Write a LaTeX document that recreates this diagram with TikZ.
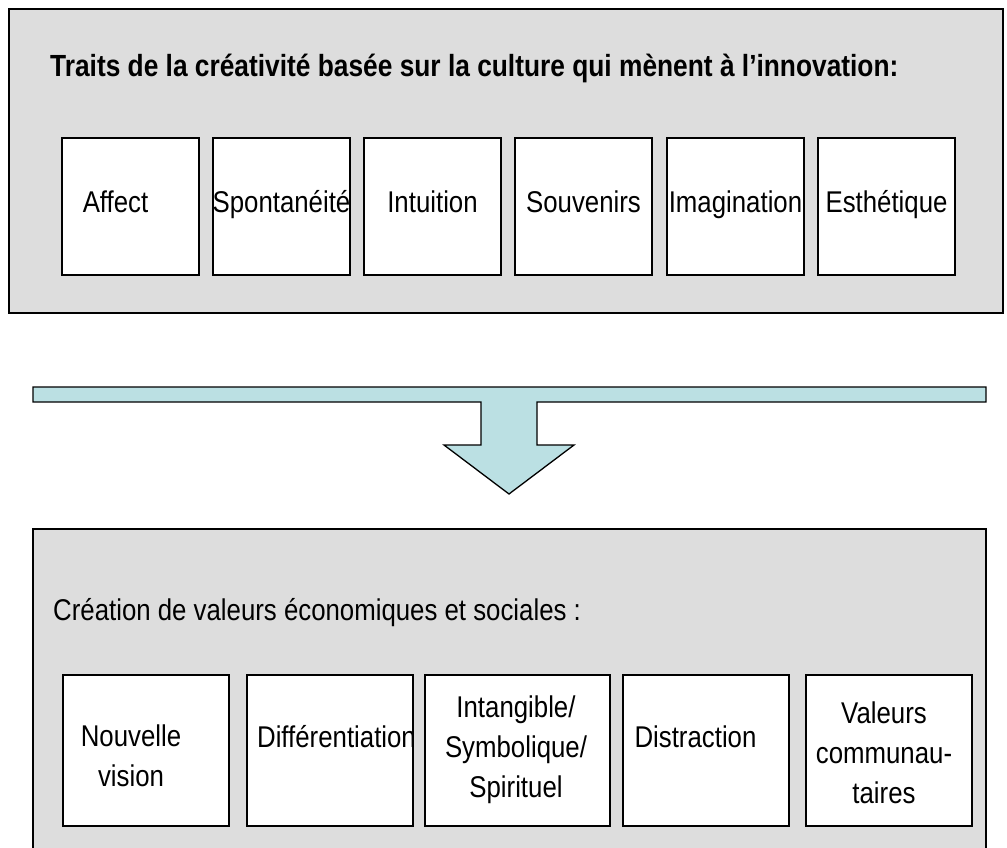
\documentclass[tikz,border=0pt]{standalone}
\usepackage{fontspec}
\setmainfont{Liberation Sans}[FakeStretch=0.86]
\definecolor{panelgrey}{RGB}{221,221,221}
\definecolor{arrowblue}{RGB}{187,224,227}

\begin{document}
\begin{tikzpicture}[x=1pt,y=-1pt]
  \tikzstyle{Panel}=[draw,line width=1.5pt,fill=panelgrey]
  \tikzstyle{TraitBox}=[draw,line width=1.3pt,fill=white,minimum width=137pt,minimum height=137pt,inner sep=0pt]
  \tikzstyle{ValueBox}=[draw,line width=1.3pt,fill=white,minimum width=166pt,minimum height=151pt,inner sep=0pt]
  \tikzstyle{Txt}=[inner sep=0pt,anchor=base,align=center,font=\fontsize{30}{40}\selectfont]
  \tikzstyle{ArrowShape}=[draw,line width=1.3pt,fill=arrowblue,line join=miter]
  \clip (0,0) rectangle (1007,848);
  % upper panel
  \draw[Panel] (9,9) rectangle (1003,313);
  \node[Txt,anchor=base west,font=\fontsize{30.6}{40}\selectfont\bfseries] (traits) at (50,77) {Traits de la créativité basée sur la culture qui mènent à l’innovation:};
  \node[TraitBox] (affect) at (130.5,206.5) {};
  \node[TraitBox] (spont) at (281.5,206.5) {};
  \node[TraitBox] (intuit) at (432.5,206.5) {};
  \node[TraitBox] (souv) at (583.5,206.5) {};
  \node[TraitBox] (imag) at (735.5,206.5) {};
  \node[TraitBox] (esth) at (886.5,206.5) {};
  \node[Txt] (taffect) at (115.5,212) {Affect};
  \node[Txt] (tspont) at (281.5,212) {Spontanéité};
  \node[Txt] (tintuit) at (432.5,212) {Intuition};
  \node[Txt] (tsouv) at (583.5,212) {Souvenirs};
  \node[Txt] (timag) at (735.5,212) {Imagination};
  \node[Txt] (testh) at (886.5,212) {Esthétique};
  % arrow
  \draw[ArrowShape] (33,387) -- (986,387) -- (986,402) -- (537,402) -- (537,445)
    -- (574,445) -- (509,494) -- (444,445) -- (481,445) -- (481,402) -- (33,402) -- cycle;
  % lower panel
  \draw[Panel] (33,529) rectangle (986,870);
  \node[Txt,anchor=base west] (creation) at (53,620) {Création de valeurs économiques et sociales :};
  \node[ValueBox] (vision) at (146,750.5) {};
  \node[ValueBox] (diff) at (330,750.5) {};
  \node[ValueBox,minimum width=185pt] (intang) at (517.5,750.5) {};
  \node[ValueBox] (distr) at (706,750.5) {};
  \node[ValueBox] (commu) at (889,750.5) {};
  % last line sits on the given baseline
  \node[Txt] (tvision) at (131,786) {Nouvelle\\vision};
  \node[Txt] (tdiff) at (336.5,747) {Différentiation};
  \node[Txt] (tintang) at (516,797) {Intangible/\\Symbolique/\\Spirituel};
  \node[Txt] (tdistr) at (695.5,747) {Distraction};
  \node[Txt] (tcommu) at (884,803) {Valeurs\\communau-\\taires};
\end{tikzpicture}
\end{document}
